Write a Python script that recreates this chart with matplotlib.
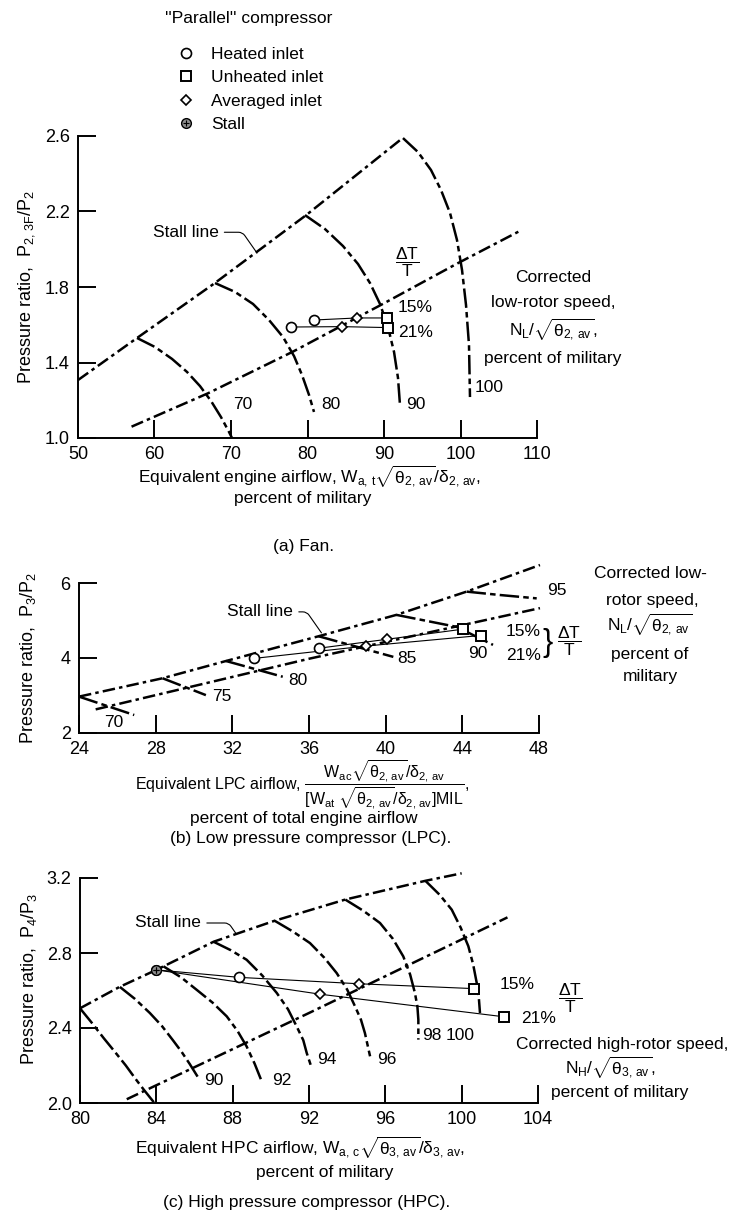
import matplotlib
matplotlib.use("Agg")
import matplotlib.pyplot as plt
from matplotlib.lines import Line2D

plt.rcParams["font.family"] = ["Liberation Sans", "DejaVu Sans"]
plt.rcParams["mathtext.fontset"] = "custom"
plt.rcParams["mathtext.rm"] = "Liberation Sans"
plt.rcParams["mathtext.it"] = "Liberation Sans"
plt.rcParams["mathtext.sf"] = "Liberation Sans"
plt.rcParams["mathtext.bf"] = "Liberation Sans:bold"
plt.rcParams["lines.scale_dashes"] = False

W, H = 743, 1222
FS = 12.5
STALL_DASH = (0, (9, 3, 2.5, 3))
SPEED_DASH = (0, (14, 3, 4, 3))

# ---------------- (a) Fan ----------------
fan_xticks = [50, 60, 70, 80, 90, 100, 110]
fan_xticklabels = ["50", "60", "70", "80", "90", "100", "110"]
fan_yticks = [1.0, 1.4, 1.8, 2.2, 2.6]
fan_yticklabels = ["1.0", "1.4", "1.8", "2.2", "2.6"]

fan_stall_x = [50.0, 57.65, 67.86, 79.8, 92.4]
fan_stall_y = [1.307, 1.528, 1.82, 2.18, 2.588]
fan_oper_x = [57.0, 67.0, 78.07, 89.6, 99.6, 107.9]
fan_oper_y = [1.06, 1.237, 1.457, 1.705, 1.925, 2.10]

fan_n70_x = [57.71, 60.07, 62.29, 64.25, 65.95, 67.39, 68.69, 69.74, 70.13]
fan_n70_y = [1.530, 1.482, 1.419, 1.350, 1.275, 1.196, 1.111, 1.032, 1.0]
fan_n80_x = [67.91, 70.52, 72.88, 74.97, 76.80, 78.24, 79.28, 80.20, 80.85]
fan_n80_y = [1.821, 1.774, 1.710, 1.625, 1.535, 1.434, 1.334, 1.228, 1.138]
fan_n90_x = [79.67, 82.29, 84.64, 86.60, 88.17, 89.48, 90.52, 91.31, 91.83, 92.09]
fan_n90_y = [2.181, 2.107, 2.017, 1.922, 1.821, 1.710, 1.588, 1.456, 1.318, 1.175]
fan_n100_x = [92.48, 94.44, 96.14, 97.45, 98.63, 99.54, 100.20, 100.72, 101.11, 101.24]
fan_n100_y = [2.589, 2.515, 2.420, 2.314, 2.192, 2.049, 1.890, 1.705, 1.493, 1.217]

fan_15_x = [80.8, 86.5, 90.4]
fan_15_y = [1.625, 1.636, 1.636]
fan_15_kind = ["heated", "averaged", "unheated"]
fan_21_x = [77.9, 84.5, 90.5]
fan_21_y = [1.588, 1.59, 1.585]
fan_21_kind = ["heated", "averaged", "unheated"]

# ---------------- (b) LPC ----------------
lpc_xticks = [24, 28, 32, 36, 40, 44, 48]
lpc_xticklabels = ["24", "28", "32", "36", "40", "44", "48"]
lpc_yticks = [2, 4, 6]
lpc_yticklabels = ["2", "4", "6"]

lpc_stall_x = [24.0, 28.36, 31.67, 36.5, 40.56, 44.22, 48.05]
lpc_stall_y = [2.97, 3.46, 3.92, 4.58, 5.15, 5.77, 6.48]
lpc_oper_x = [24.87, 36.0, 48.05]
lpc_oper_y = [2.63, 3.98, 5.33]

lpc_n70_x = [24.0, 26.88]
lpc_n70_y = [2.97, 2.48]
lpc_n75_x = [28.36, 30.62]
lpc_n75_y = [3.46, 3.01]
lpc_n80_x = [31.67, 34.63]
lpc_n80_y = [3.92, 3.50]
lpc_n85_x = [36.5, 40.4]
lpc_n85_y = [4.58, 4.03]
lpc_n90_x = [40.56, 43.7, 45.6]
lpc_n90_y = [5.15, 4.83, 4.35]
lpc_n95_x = [44.22, 45.96, 47.88]
lpc_n95_y = [5.77, 5.68, 5.59]

lpc_15_x = [36.5, 40.08, 44.04]
lpc_15_y = [4.26, 4.50, 4.77]
lpc_15_kind = ["heated", "averaged", "unheated"]
lpc_21_x = [33.15, 38.99, 44.95]
lpc_21_y = [3.99, 4.32, 4.60]
lpc_21_kind = ["heated", "averaged", "unheated"]

# ---------------- (c) HPC ----------------
hpc_xticks = [80, 84, 88, 92, 96, 100, 104]
hpc_xticklabels = ["80", "84", "88", "92", "96", "100", "104"]
hpc_yticks = [2.0, 2.4, 2.8, 3.2]
hpc_yticklabels = ["2.0", "2.4", "2.8", "3.2"]

hpc_stall_x = [80.0, 82.05, 84.0, 87.0, 90.2, 93.9, 98.1, 100.0]
hpc_stall_y = [2.505, 2.618, 2.71, 2.86, 2.972, 3.085, 3.185, 3.225]
hpc_oper_x = [82.45, 92.0, 102.4]
hpc_oper_y = [2.02, 2.48, 2.99]

hpc_n88_x = [80.0, 80.6, 81.25, 81.85, 82.4, 82.9, 83.35, 83.9]
hpc_n88_y = [2.505, 2.43, 2.345, 2.27, 2.2, 2.13, 2.07, 2.0]
hpc_n90_x = [82.09, 82.88, 83.66, 84.29, 84.86, 85.33, 85.75, 86.27]
hpc_n90_y = [2.619, 2.555, 2.480, 2.411, 2.336, 2.272, 2.208, 2.123]
hpc_n92_x = [84.37, 85.3, 86.11, 86.95, 87.69, 88.25, 88.73, 89.15, 89.52]
hpc_n92_y = [2.729, 2.67, 2.604, 2.535, 2.462, 2.385, 2.302, 2.21, 2.116]
hpc_n94_x = [87.0, 87.9, 88.73, 89.55, 90.31, 90.9, 91.35, 91.7, 91.88, 92.14]
hpc_n94_y = [2.86, 2.815, 2.764, 2.68, 2.587, 2.5, 2.409, 2.335, 2.267, 2.187]
hpc_n96_x = [90.2, 91.15, 92.05, 92.8, 93.45, 94.0, 94.41, 94.72, 94.93, 95.2]
hpc_n96_y = [2.972, 2.915, 2.853, 2.775, 2.693, 2.605, 2.516, 2.445, 2.373, 2.249]
hpc_n98_x = [93.9, 94.85, 95.72, 96.4, 96.94, 97.3, 97.55, 97.68, 97.73, 97.73]
hpc_n98_y = [3.085, 3.025, 2.96, 2.875, 2.782, 2.685, 2.587, 2.515, 2.444, 2.338]
hpc_n100_x = [98.1, 98.85, 99.48, 99.95, 100.35, 100.6, 100.79, 100.9, 100.96]
hpc_n100_y = [3.185, 3.11, 3.031, 2.935, 2.836, 2.74, 2.64, 2.56, 2.48]

hpc_15_x = [84.0, 88.35, 94.6, 100.65]
hpc_15_y = [2.71, 2.67, 2.636, 2.61]
hpc_15_kind = ["stall", "heated", "averaged", "unheated"]
hpc_21_x = [84.0, 92.6, 102.2]
hpc_21_y = [2.71, 2.58, 2.46]
hpc_21_kind = ["stall", "averaged", "unheated"]

legend_kinds = ["heated", "unheated", "averaged", "stall"]
legend_labels = ["Heated inlet", "Unheated inlet", "Averaged inlet", "Stall"]

MARKS = {
    "heated": dict(marker="o", ms=7.2, mfc="white", mec="black", mew=1.2),
    "unheated": dict(marker="s", ms=6.8, mfc="white", mec="black", mew=1.4),
    "averaged": dict(marker="D", ms=5.4, mfc="white", mec="black", mew=1.2),
    "stall": dict(marker="o", ms=7.0, mfc="0.55", mec="black", mew=1.0),
}


def style_axis(ax, xticks, xlabels, yticks, ylabels):
    ax.set_xlim(xticks[0], xticks[-1])
    ax.set_ylim(yticks[0], yticks[-1])
    ax.set_xticks(xticks, xlabels)
    ax.set_yticks(yticks, ylabels)
    for side in ("top", "right"):
        ax.spines[side].set_visible(False)
    for side in ("left", "bottom"):
        ax.spines[side].set_linewidth(1.4)
    ax.tick_params(direction="in", length=13, width=1.4, pad=6, labelsize=FS + 0.5)
    ax.patch.set_visible(False)


def chain(ax, x, y, dash, lw=1.8):
    ax.plot(x, y, color="black", lw=lw, linestyle=dash, dash_capstyle="butt",
            solid_joinstyle="round", clip_on=False, zorder=2)


def series(ax, x, y, kinds):
    ax.plot(x, y, color="black", lw=0.8, clip_on=False, zorder=3)
    for xi, yi, k in zip(x, y, kinds):
        ax.plot(xi, yi, ls="none", clip_on=False, zorder=4, **MARKS[k])
        if k == "stall":
            ax.plot(xi, yi, ls="none", marker="+", ms=5, mew=0.8, color="black", zorder=5, clip_on=False)


def stall_label(ax, xy, xytext):
    ax.annotate("Stall line", xy=xy, xytext=xytext, ha="center", va="center", fontsize=FS,
                arrowprops=dict(arrowstyle="-", lw=0.8, shrinkA=2, shrinkB=0,
                                connectionstyle="angle,angleA=0,angleB=125,rad=4"))


def fig_text(px, py, s, **kw):
    fig.text(px / W, 1 - py / H, s, fontsize=kw.pop("fontsize", FS), **kw)


fig = plt.figure(figsize=(W / 100, H / 100), dpi=100)
ax_a = fig.add_axes([78 / W, 1 - 438 / H, (537 - 78) / W, (438 - 136) / H])
ax_b = fig.add_axes([79 / W, 1 - 733 / H, (539 - 79) / W, (733 - 583) / H])
ax_c = fig.add_axes([80 / W, 1 - 1103 / H, (538 - 80) / W, (1103 - 878) / H])

# ---- (a)
style_axis(ax_a, fan_xticks, fan_xticklabels, fan_yticks, fan_yticklabels)
chain(ax_a, fan_stall_x, fan_stall_y, STALL_DASH)
chain(ax_a, fan_oper_x, fan_oper_y, STALL_DASH)
for xs, ys in [(fan_n70_x, fan_n70_y), (fan_n80_x, fan_n80_y), (fan_n90_x, fan_n90_y), (fan_n100_x, fan_n100_y)]:
    chain(ax_a, xs, ys, SPEED_DASH)
series(ax_a, fan_15_x, fan_15_y, fan_15_kind)
series(ax_a, fan_21_x, fan_21_y, fan_21_kind)
for s, x, y in [("70", 70.3, 1.175), ("80", 81.8, 1.175), ("90", 92.9, 1.175), ("100", 101.9, 1.265)]:
    ax_a.text(x, y, s, fontsize=FS, va="center")
stall_label(ax_a, (73.4, 1.98), (64.1, 2.09))
ax_a.text(93.0, 1.93, r"$\dfrac{\Delta T}{T}$", fontsize=FS, ha="center", va="center")
ax_a.text(91.8, 1.69, "15%", fontsize=FS, va="center")
ax_a.text(91.8, 1.56, "21%", fontsize=FS, va="center")
ax_a.set_ylabel(r"Pressure ratio,  $P_{2,\,3F}/P_2$", fontsize=FS + 0.5)
ax_a.yaxis.set_label_coords(-0.09, 0.5)
fig_text(553, 277, "Corrected", ha="center", va="center")
fig_text(553, 302, "low-rotor speed,", ha="center", va="center")
fig_text(553, 330, r"$N_L/\sqrt{\theta_{2,\,av}}$,", ha="center", va="center")
fig_text(553, 358, "percent of military", ha="center", va="center")
fig_text(309, 477, r"Equivalent engine airflow, $W_{a,\,t}\sqrt{\theta_{2,\,av}}/\delta_{2,\,av}$,",
         ha="center", va="center")
fig_text(303, 499, "percent of military", ha="center", va="center")
fig_text(304, 547, "(a) Fan.", ha="center", va="center")

# legend
fig_text(165, 19, "''Parallel'' compressor", ha="left", va="center")
handles = []
for k in legend_kinds:
    h = Line2D([], [], ls="none", **MARKS[k])
    if k == "stall":
        h = (h, Line2D([], [], ls="none", marker="+", ms=5, mew=0.8, color="black"))
    handles.append(h)
fig.legend(handles, legend_labels, loc="upper left", bbox_to_anchor=(165 / W, 1 - 38 / H),
           frameon=False, fontsize=FS, borderpad=0, handlelength=1.45, handletextpad=0.7,
           labelspacing=0.48)

# ---- (b)
style_axis(ax_b, lpc_xticks, lpc_xticklabels, lpc_yticks, lpc_yticklabels)
chain(ax_b, lpc_stall_x, lpc_stall_y, STALL_DASH)
chain(ax_b, lpc_oper_x, lpc_oper_y, STALL_DASH)
for xs, ys in [(lpc_n70_x, lpc_n70_y), (lpc_n75_x, lpc_n75_y), (lpc_n80_x, lpc_n80_y),
               (lpc_n85_x, lpc_n85_y), (lpc_n90_x, lpc_n90_y), (lpc_n95_x, lpc_n95_y)]:
    chain(ax_b, xs, ys, SPEED_DASH)
series(ax_b, lpc_15_x, lpc_15_y, lpc_15_kind)
series(ax_b, lpc_21_x, lpc_21_y, lpc_21_kind)
for s, x, y in [("70", 25.3, 2.27), ("75", 30.97, 2.97), ("80", 34.9, 3.41), ("85", 40.6, 3.99),
                ("90", 44.3, 4.13), ("95", 48.4, 5.81)]:
    ax_b.text(x, y, s, fontsize=FS, va="center")
stall_label(ax_b, (36.65, 4.67), (33.46, 5.23))
ax_b.text(47.15, 4.70, "15%", fontsize=FS, ha="center", va="center")
ax_b.text(47.2, 4.08, "21%", fontsize=FS, ha="center", va="center")
ax_b.text(48.45, 4.39, "}", fontsize=22, ha="center", va="center")
ax_b.text(49.55, 4.45, r"$\dfrac{\Delta T}{T}$", fontsize=FS, ha="center", va="center")
ax_b.set_ylabel(r"Pressure ratio,  $P_3/P_2$", fontsize=FS + 0.5)
ax_b.yaxis.set_label_coords(-0.09, 0.5)
fig_text(650, 573, "Corrected low-", ha="center", va="center")
fig_text(652, 600, "rotor speed,", ha="center", va="center")
fig_text(650, 625, r"$N_L/\sqrt{\theta_{2,\,av}}$", ha="center", va="center")
fig_text(650, 655, "percent of", ha="center", va="center")
fig_text(650, 677, "military", ha="center", va="center")
fig_text(302, 790, r"Equivalent LPC airflow, $\dfrac{W_{ac}\sqrt{\theta_{2,\,av}}/\delta_{2,\,av}}"
                   r"{[W_{at}\ \sqrt{\theta_{2,\,av}}/\delta_{2,\,av}]\mathrm{MIL}}$,",
         ha="center", va="baseline", fontsize=11.5)
fig_text(304, 818, "percent of total engine airflow", ha="center", va="center")
fig_text(311, 839, "(b) Low pressure compressor (LPC).", ha="center", va="center")

# ---- (c)
style_axis(ax_c, hpc_xticks, hpc_xticklabels, hpc_yticks, hpc_yticklabels)
chain(ax_c, hpc_stall_x, hpc_stall_y, STALL_DASH)
chain(ax_c, hpc_oper_x, hpc_oper_y, STALL_DASH)
for xs, ys in [(hpc_n88_x, hpc_n88_y), (hpc_n90_x, hpc_n90_y), (hpc_n92_x, hpc_n92_y), (hpc_n94_x, hpc_n94_y),
               (hpc_n96_x, hpc_n96_y), (hpc_n98_x, hpc_n98_y), (hpc_n100_x, hpc_n100_y)]:
    chain(ax_c, xs, ys, SPEED_DASH)
series(ax_c, hpc_15_x, hpc_15_y, hpc_15_kind)
series(ax_c, hpc_21_x, hpc_21_y, hpc_21_kind)
for s, x, y in [("90", 86.5, 2.12), ("92", 90.05, 2.12), ("94", 92.45, 2.23), ("96", 95.55, 2.23),
                ("98", 97.95, 2.36), ("100", 99.15, 2.36)]:
    ax_c.text(x, y, s, fontsize=FS, va="center")
stall_label(ax_c, (88.2, 2.90), (84.63, 2.96))
ax_c.text(102.9, 2.63, "15%", fontsize=FS, ha="center", va="center")
ax_c.text(104.05, 2.45, "21%", fontsize=FS, ha="center", va="center")
ax_c.text(105.7, 2.56, r"$\dfrac{\Delta T}{T}$", fontsize=FS, ha="center", va="center")
ax_c.set_ylabel(r"Pressure ratio,  $P_4/P_3$", fontsize=FS + 0.5)
ax_c.yaxis.set_label_coords(-0.09, 0.55)
fig_text(622, 1045, "Corrected high-rotor speed,", ha="center", va="center")
fig_text(610, 1068, r"$N_H/\sqrt{\theta_{3,\,av}}$,", ha="center", va="center")
fig_text(620, 1092, "percent of military", ha="center", va="center")
fig_text(300, 1148, r"Equivalent HPC airflow, $W_{a,\,c}\sqrt{\theta_{3,\,av}}/\delta_{3,\,av}$,",
         ha="center", va="center")
fig_text(325, 1172, "percent of military", ha="center", va="center")
fig_text(307, 1203, "(c) High pressure compressor (HPC).", ha="center", va="center")

fig.savefig("out.png", dpi=100)
